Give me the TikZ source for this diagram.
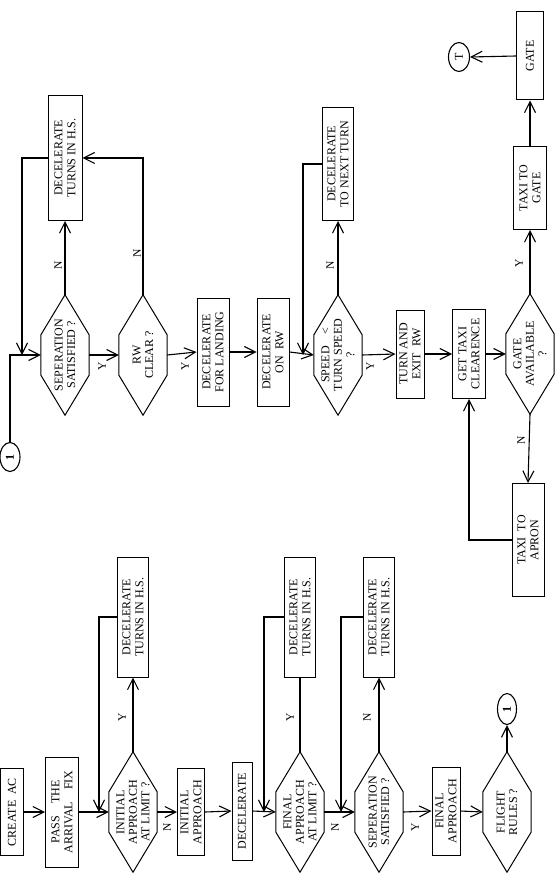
\documentclass[tikz,border=0pt]{standalone}
\usepackage{fontspec}
\setmainfont{Liberation Serif}
\usetikzlibrary{arrows.meta,shapes.geometric,calc}

\begin{document}
\begin{tikzpicture}[
    x=1pt, y=-1pt,
    >={Straight Barb[length=11pt,width=11pt]},
    proc/.style={draw, line width=1pt, rotate=90, align=center, inner sep=1pt, font=\fontsize{12}{13}\selectfont},
    decide/.style={rotate=90, minimum width=120pt, minimum height=48pt, inner sep=0pt, align=center, font=\fontsize{12}{12.5}\selectfont},
    hexline/.style={draw, line width=1pt, line join=miter},
    term/.style={draw, ellipse, line width=1.1pt, rotate=90, inner sep=0pt, font=\bfseries\fontsize{12}{12}\selectfont},
    flow/.style={draw, line width=1.1pt, ->},
    plain/.style={draw, line width=1.1pt},
    yn/.style={rotate=90, font=\fontsize{11.5}{11.5}\selectfont},
]
\useasboundingbox (0,0) rectangle (554,885);

% ========== Upper row: landing and taxi ==========
\node[term, minimum width=29pt, minimum height=20pt] (one) at (10,457) {1};
\node[decide] (sepB) at (65,355) {SEPERATION\\SATISFIED ?};
\node[proc, minimum width=125pt, minimum height=34pt] (holdB) at (65,158) {DECELERATE\\TURNS IN H.S.};
\node[decide] (rwclr) at (143,355) {RW\\CLEAR ?};
\node[proc, minimum width=108pt, minimum height=32pt] (land) at (213,352) {DECELERATE\\FOR LANDING};
\node[proc, minimum width=108pt, minimum height=32pt] (onrw) at (273,352) {DECELERATE\\ON\ \ RW};
\node[decide] (speed) at (338,355) {SPEED\quad\textless\\TURN SPEED\\?};
\node[proc, minimum width=113pt, minimum height=31pt] (next) at (338,164) {DECELERATE\\TO NEXT TURN};
\node[proc, minimum width=88pt, minimum height=28pt] (exit) at (410,354) {TURN AND\\EXIT\ \ RW};
\node[proc, minimum width=89pt, minimum height=33pt] (clear) at (469,354) {GET TAXI\\CLEARENCE};
\node[decide] (avail) at (530,354) {GATE\\AVAILABLE\\?};
\node[proc, minimum width=83pt, minimum height=33pt] (togate) at (530,188) {TAXI TO\\GATE};
\node[proc, minimum width=88pt, minimum height=27pt] (gate) at (530,56) {GATE};
\node[term, minimum width=29pt, minimum height=21pt, font=\fontsize{12}{12}\selectfont] (stop) at (459,57) {T};
\node[proc, minimum width=113pt, minimum height=32pt] (apron) at (528,540) {TAXI\ \ TO\\APRON};

% joins on the main line
\coordinate (jB) at (22,355);
\coordinate (jN) at (303,355);

\draw[flow] (one.east) |- (sepB.north);
\draw[flow] (sepB.east) -- (holdB.west);
\draw[flow] (holdB.north) -| (jB);
\draw[flow] (sepB.south) -- (rwclr.north);
\draw[flow] (rwclr.east) |- (holdB.south);
\draw[flow] (rwclr.south) -- (land.north);
\draw[flow] (land.south) -- (onrw.north);
\draw[flow] (onrw.south) -- (speed.north);
\draw[flow] (speed.east) -- (next.west);
\draw[flow] (next.north) -| (jN);
\draw[flow] (speed.south) -- (exit.north);
\draw[flow] (exit.south) -- (clear.north);
\draw[flow] (clear.south) -- (avail.north);
\draw[flow] (avail.east) -- (togate.west);
\draw[flow] (togate.east) -- (gate.west);
\draw[flow] (gate.north) -- (stop.south);
\draw[flow] (avail.west) -- (apron.east);
\draw[flow] (apron.north) -| (clear.west);

\node[yn] at (58,265) {N};
\node[yn] at (102,366) {Y};
\node[yn] at (137,253) {N};
\node[yn] at (185,366) {Y};
\node[yn] at (330,265) {N};
\node[yn] at (370,366) {Y};
\node[yn] at (519,263) {Y};
\node[yn] at (521,440) {N};

% ========== Lower row: approach ==========
\node[proc, minimum width=87pt, minimum height=23pt] (create) at (12,812) {CREATE\ \ AC};
\node[proc, minimum width=110pt, minimum height=33pt] (fix) at (62,812) {PASS\quad THE\\ARRIVAL\quad FIX};
\node[decide] (initlim) at (133,812) {INITIAL\\APPROACH\\AT LIMIT ?};
\node[proc, minimum width=120pt, minimum height=31pt] (holdI) at (133,617) {DECELERATE\\TURNS IN H.S.};
\node[proc, minimum width=87pt, minimum height=27pt] (initapp) at (191,812) {INITIAL\\APPROACH};
\node[proc, minimum width=98pt, minimum height=20pt] (decel) at (242,811) {DECELERATE};
\node[decide] (finlim) at (300,812) {FINAL\\APPROACH\\AT LIMIT ?};
\node[proc, minimum width=120pt, minimum height=31pt] (holdF) at (300,617) {DECELERATE\\TURNS IN H.S.};
\node[decide] (sepA) at (379,812) {SEPERATION\\SATISFIED ?};
\node[proc, minimum width=120pt, minimum height=31pt] (holdA) at (379,617) {DECELERATE\\TURNS IN H.S.};
\node[proc, minimum width=88pt, minimum height=28pt] (finapp) at (446,811) {FINAL\\APPROACH};
\node[decide] (rules) at (507,812) {FLIGHT\\RULES ?};
\node[term, minimum width=31pt, minimum height=19pt] (oneout) at (507,709) {1};

\coordinate (jI) at (99,812);
\coordinate (jF) at (264,812);
\coordinate (jA) at (341,812);

\draw[flow] (create.south) -- (fix.north);
\draw[flow] (fix.south) -- (initlim.north);
\draw[flow] (initlim.east) -- (holdI.west);
\draw[flow] (holdI.north) -| (jI);
\draw[flow] (initlim.south) -- (initapp.north);
\draw[flow] (initapp.south) -- (decel.north);
\draw[flow] (decel.south) -- (finlim.north);
\draw[plain] (finlim.east) -- (holdF.west);
\draw[flow] (holdF.north) -| (jF);
\draw[flow] (finlim.south) -- (sepA.north);
\draw[flow] (sepA.east) -- (holdA.west);
\draw[flow] (holdA.north) -| (jA);
\draw[flow] (sepA.south) -- (finapp.north);
\draw[flow] (finapp.south) -- (rules.north);
\draw[flow] (rules.east) -- (oneout.west);

\node[yn] at (122,717) {Y};
\node[yn] at (167,827) {N};
\node[yn] at (290,717) {Y};
\node[yn] at (335,827) {N};
\node[yn] at (367,717) {N};
\node[yn] at (415,827) {Y};

% hexagon outlines of the decisions
\foreach \d in {sepB,rwclr,speed,avail,initlim,finlim,sepA,rules} {
    \draw[hexline] (\d.east) -- ($(\d.north)!1/3!(\d.north east)$) -- ($(\d.north)!1/3!(\d.north west)$)
        -- (\d.west) -- ($(\d.south)!1/3!(\d.south west)$) -- ($(\d.south)!1/3!(\d.south east)$) -- cycle;
}

\end{tikzpicture}
\end{document}
